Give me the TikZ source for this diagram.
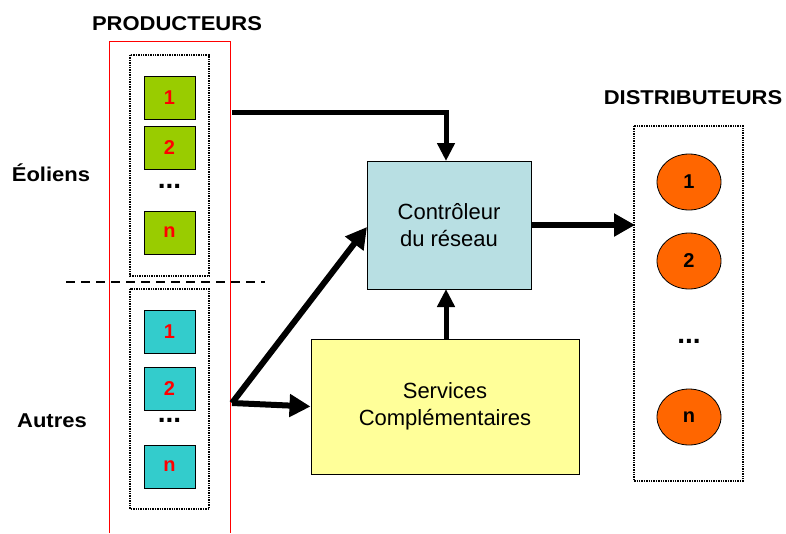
\documentclass[tikz,border=0pt]{standalone}
\usepackage{fontspec}
\setmainfont{Liberation Sans}
\usetikzlibrary{arrows.meta,shapes.geometric}
\definecolor{windgreen}{HTML}{99CC00}
\definecolor{othercyan}{HTML}{33CCCC}
\definecolor{ctrlblue}{HTML}{B8DFE3}
\definecolor{servyellow}{HTML}{FFFF99}
\definecolor{distorange}{HTML}{FF6600}
\newcommand{\widetext}[1]{\scalebox{1.1}[1]{#1}}
\tikzset{
  title/.style={font=\bfseries\fontsize{20}{24}\selectfont, inner sep=0pt},
  unitbox/.style={draw=black, line width=1pt, minimum width=51pt, minimum height=43pt, inner sep=0pt,
    font=\bfseries\fontsize{20}{24}\selectfont, text=red},
  distnode/.style={ellipse, draw=black, line width=0.8pt, fill=distorange, minimum width=64pt, minimum height=56pt,
    inner sep=0pt, font=\bfseries\fontsize{20}{24}\selectfont},
  groupbox/.style={draw=black, line width=1.4pt, dash pattern=on 1.4pt off 1pt},
  bigbox/.style={draw=black, line width=1pt, inner sep=0pt, font=\fontsize{22}{27}\selectfont, align=center},
  flow/.style={draw=black, line width=5pt, -{Triangle[length=18pt,width=17pt]}},
  bigflow/.style={draw=black, line width=6pt, -{Triangle[length=21pt,width=22pt]}},
  dots/.style={font=\bfseries\fontsize{28}{28}\selectfont, inner sep=0pt}
}
\begin{document}
\begin{tikzpicture}[x=1pt,y=-1pt]
\useasboundingbox (0,0) rectangle (786,533);
% producers frame
\draw[red, line width=0.8pt] (109,533) -- (109,41) -- (230,41) -- (230,533);
\node[title] (prod) at (177,24) {\widetext{PRODUCTEURS}};
\node[title] (eol) at (51,173) {\widetext{Éoliens}};
\node[title] (aut) at (52,421) {\widetext{Autres}};
% wind producers
\draw[groupbox] (130,55) rectangle (209,276);
\node[unitbox, fill=windgreen] (w1) at (169.5,97.5) {1};
\node[unitbox, fill=windgreen] (w2) at (169.5,147.5) {2};
\node[dots] (wd) at (169.5,186) {...};
\node[unitbox, fill=windgreen] (wn) at (169.5,232.5) {n};
% separator
\draw[black, line width=1.8pt, dash pattern=on 9pt off 6pt] (66,282) -- (265,282);
% other producers
\draw[groupbox] (130,289) rectangle (209,509);
\node[unitbox, fill=othercyan] (o1) at (169.5,331.5) {1};
\node[unitbox, fill=othercyan] (o2) at (169.5,388.5) {2};
\node[dots] (od) at (169.5,420) {...};
\node[unitbox, fill=othercyan] (on) at (169.5,466.5) {n};
% controller and services
\node[bigbox, fill=ctrlblue, minimum width=164pt, minimum height=128pt] (ctrl) at (449,225) {Contrôleur\\du réseau};
\node[bigbox, fill=servyellow, minimum width=268pt, minimum height=135pt] (serv) at (445,406.5) {Services\\Complémentaires};
% distributors
\draw[groupbox] (634,126) rectangle (743,481);
\node[title] (dist) at (693,98) {\widetext{DISTRIBUTEURS}};
\node[distnode] (d1) at (689,182) {1};
\node[distnode] (d2) at (689,261) {2};
\node[dots] (dd) at (689,341) {...};
\node[distnode] (dn) at (689,417) {n};
% connectors
\coordinate (wout) at (232,112);
\coordinate (oout) at (232,403);
\coordinate (din) at (635,225);
\draw[flow, line join=miter] (wout) -- (446,112) -- (446,161);
\draw[flow] (446,339) -- (446,289);
\draw[bigflow] (oout) -- (367,227);
\draw[bigflow] (oout) -- (serv.west);
\draw[bigflow] (ctrl.east) -- (din);
\end{tikzpicture}
\end{document}
